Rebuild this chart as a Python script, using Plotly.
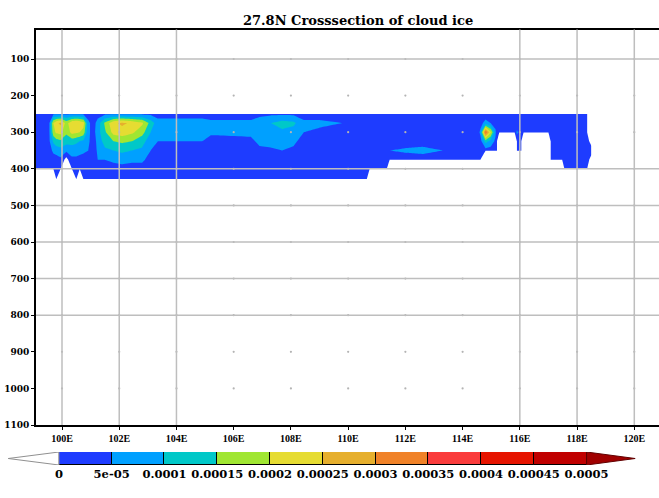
import numpy as np
import plotly.graph_objects as go

# ---------------- data ----------------
# longitude columns (deg E) of the 27.8N cross-section
LON = [99.0, 99.55, 99.7, 99.8, 99.95, 100.15, 100.35, 100.5, 100.62, 100.75,
       100.92, 101.1, 101.25, 101.5, 101.8, 102.1, 102.45, 102.8, 103.1, 103.35,
       104.9, 105.2, 106.6, 106.9, 107.3, 107.7, 108.1, 108.45, 109.0, 109.8,
       110.1, 110.65, 110.75, 111.35, 111.45, 112.0, 112.6, 113.3, 113.5, 114.5,
       114.62, 114.8, 114.98, 115.15, 115.2, 115.28, 115.82, 115.9, 116.05, 116.13,
       117.0, 117.08, 117.48, 117.56, 118.35, 118.5]

# pressure levels (hPa)
PLEV = [250, 275, 300, 325, 350, 375, 400, 428]

# cloud ice mixing ratio per level, in units of 1e-5 kg/kg (N = no ice / missing)
N = -99
ice_250 = [2, 3, 4, 4, 4, 4, 4, 4, 4, 4, 3, 2, 3, 4, 4, 4, 4, 4, 4, 3,
           3, 3, 3, 4, 4, 4, 4, 3, 3, 3, 2, 2, 2, 2, 2, 2, 2, 2, 2, 2,
           2, 2, 2, 2, 2, 2, 2, 2, 2, 2, 2, 2, 2, 2, 2, N]
ice_275 = [2, 4, 20, 24, 26, 18, 24, 25, 24, 22, 6, 3, 7, 16, 24, 26, 24, 21, 13, 7,
           7, 6, 6, 7, 10, 12, 11, 6, 6, 5, 3, 2, 2, 2, 2, 2, 2, 2, 2, 2,
           3, 7, 5, 3, 2, 2, 2, 2, 2, 2, 2, 2, 2, 2, 2, N]
ice_300 = [2, 4, 18, 21, 22, 16, 22, 21, 20, 18, 6, 3, 8, 14, 22, 23, 21, 17, 10, 7,
           7, 6, 6, 7, 9, 9, 8, 5, 4, 3, 2, 2, 2, 2, 2, 2, 2, 2, 2, 2,
           6, 35, 21, 6, 2, 2, 2, 6, 2, 2, 2, 2, 2, 2, 2, N]
ice_325 = [2, 4, 11, 13, 14, 12, 12, 11, 10, 9, 6, 2, 7, 12, 15, 16, 15, 12, 7, 5,
           5, 3, 4, 6, 7, 7, 6, 3, 3, 2, 2, 2, 2, 2, 2, 2, 2, 2, 2, 2,
           3, 12, 8, 4, 2, N, N, 2, 2, N, N, 2, 2, 2, 2, -2]
ice_350 = [2, 3, 6, 7, 8, 6, 7, 7, 6, 6, 5, 2, 6, 9, 10, 11, 10, 9, 5, 3,
           3, 2, 2, 4, 4, 5, 4, 2, 2, 2, 2, 2, 2, 2, 5, 6, 7, 5, 2, 2,
           2, 3, 3, 2, 2, N, N, 2, 2, N, N, 2, 2, 2, 2, 2]
ice_375 = [2, 2, 3, 3, 4, -2, 4, 4, 4, 3, 3, 2, 5, 5, 6, 7, 6, 6, 3, 2,
           2, 2, 2, 2, 2, 3, 2, 2, 2, 2, 2, 2, 2, 2, 2, 2, 2, 2, 2, 2,
           2, N, N, N, N, N, N, N, N, N, N, 2, 2, 2, 2, -2]
ice_400 = [2, 2, 2, 2, 2, N, 1, 2, 2, 2, 2, 2, 2, 2, 3, 3, 3, 3, 2, 2,
           2, 2, 2, 2, 2, 2, 2, 2, 2, 2, 2, 2, 2, 2, N, N, N, N, N, N,
           N, N, N, N, N, N, N, N, N, N, N, N, N, 2, 2, N]
ice_428 = [N, N, N, 1, N, N, N, 1, N, 2, 2, 2, 2, 2, 2, 2, 2, 2, 2, 2,
           2, 2, 2, 2, 2, 2, 2, 2, 2, 2, 2, 2, N, N, N, N, N, N, N, N,
           N, N, N, N, N, N, N, N, N, N, N, N, N, N, N, N]

# shading levels and colours (below first level, 10 bands, above last level)
LEVELS = [0, 0.00005, 0.0001, 0.00015, 0.0002, 0.00025, 0.0003, 0.00035,
          0.0004, 0.00045, 0.0005]
LEVEL_LABELS = ["0", "5e-05", "0.0001", "0.00015", "0.0002", "0.00025", "0.0003",
                "0.00035", "0.0004", "0.00045", "0.0005"]
SHADE_COLORS = ["#FFFFFF", "#1E3CFF", "#00A0FF", "#00C8C8", "#A0E632", "#E6DC32",
                "#E6AF2D", "#F08228", "#FA3C3C", "#E61400", "#C00000", "#A00000"]

# axis ticks
LON_TICKS = list(range(100, 121, 2))
LON_LABELS = [f"{v}E" for v in LON_TICKS]
P_TICKS = list(range(100, 1101, 100))
P_LABELS = [str(v) for v in P_TICKS]
GRID_LON_LINES = [100, 102, 104, 116, 118, 120]
GRID_P_LINES = [100, 400, 500, 600, 700, 800]

# ---------------- figure ----------------
W, H = 659, 498
z = np.array([ice_250, ice_275, ice_300, ice_325, ice_350, ice_375, ice_400, ice_428],
             dtype=float) * 1e-5

nlev = len(LEVELS)
cscale = [[k / nlev, c] for k, c in enumerate(SHADE_COLORS)]
step = LEVELS[1] - LEVELS[0]

fig = go.Figure()
fig.add_trace(go.Contour(
    x=LON, y=PLEV, z=z,
    autocontour=False,
    contours=dict(start=LEVELS[0], end=LEVELS[-1], size=step,
                  coloring="fill", showlines=False),
    line=dict(width=0, smoothing=0),
    colorscale=cscale, showscale=False, hoverinfo="skip",
    xaxis="x", yaxis="y"))

# grid dots at every tick crossing
gx, gy = np.meshgrid(LON_TICKS, P_TICKS[:-1])
fig.add_trace(go.Scatter(
    x=gx.ravel(), y=gy.ravel(), mode="markers",
    marker=dict(size=2.2, color="#B4B4B4"), hoverinfo="skip",
    xaxis="x", yaxis="y"))

# colour key: boxes between levels and end triangles
idx = np.arange(len(LEVELS) - 1)
fig.add_trace(go.Bar(
    x=idx + 0.5, y=[1] * len(idx), base=0, width=1,
    marker=dict(color=SHADE_COLORS[1:-1], line=dict(color="black", width=1)),
    hoverinfo="skip", xaxis="x2", yaxis="y2"))
last = len(LEVELS) - 1
fig.add_trace(go.Scatter(
    x=[0, -0.96, 0, 0], y=[0, 0.5, 1, 0], mode="lines", fill="toself",
    fillcolor=SHADE_COLORS[0], line=dict(color="#909090", width=1),
    hoverinfo="skip", xaxis="x2", yaxis="y2"))
fig.add_trace(go.Scatter(
    x=[last, last + 0.92, last, last], y=[0, 0.5, 1, 0], mode="lines", fill="toself",
    fillcolor=SHADE_COLORS[-1], line=dict(color="#600000", width=1),
    hoverinfo="skip", xaxis="x2", yaxis="y2"))

grid_style = dict(color="#BEBEBE", width=1.5)
for lon in GRID_LON_LINES:
    fig.add_shape(type="line", xref="x", yref="y domain", x0=lon, x1=lon, y0=0, y1=1,
                  line=grid_style, layer="above")
for p in GRID_P_LINES:
    fig.add_shape(type="line", xref="x domain", yref="y", x0=0, x1=1, y0=p, y1=p,
                  line=grid_style, layer="above")

x_left, x_right = 36, W
lon_per_px = 20 / (634.3 - 62)
y_top, y_bot = 29.5, 425
hpa_per_px = 1000 / (425 - 59)

tick_font = dict(family="Liberation Serif", size=10, color="black", weight="bold")
fig.update_layout(
    width=W, height=H, margin=dict(l=0, r=0, t=0, b=0),
    paper_bgcolor="white", plot_bgcolor="white", showlegend=False,
    bargap=0,
    xaxis=dict(domain=[x_left / W, 1],
               range=[100 - (62 - x_left) * lon_per_px, 100 + (x_right - 62) * lon_per_px],
               tickmode="array", tickvals=LON_TICKS, ticktext=LON_LABELS,
               showgrid=False, zeroline=False, showline=True, linecolor="black",
               linewidth=2, mirror=True, ticks="outside", ticklen=3, tickcolor="black",
               tickfont=tick_font, automargin=False, anchor="y"),
    yaxis=dict(domain=[(H - y_bot) / H, (H - y_top) / H],
               range=[1100, 100 - (59 - y_top) * hpa_per_px],
               tickmode="array", tickvals=P_TICKS, ticktext=P_LABELS,
               showgrid=False, zeroline=False, showline=True, linecolor="black",
               linewidth=2, ticks="outside", ticklen=3, tickcolor="black",
               tickfont=dict(family="DejaVu Serif", size=9, color="black", weight="bold"),
               automargin=False, anchor="x"),
    xaxis2=dict(domain=[0, 1], range=[-58.9 / 52.77, (W - 58.9) / 52.77],
                tickmode="array", tickvals=list(range(len(LEVELS))), ticktext=LEVEL_LABELS,
                showgrid=False, zeroline=False, showline=False, ticks="",
                tickfont=dict(family="DejaVu Serif", size=11.5, color="black", weight="bold"),
                automargin=False, anchor="y2"),
    yaxis2=dict(domain=[(H - 465) / H, (H - 452) / H], range=[0, 1], visible=False,
                fixedrange=True, anchor="x2"),
    annotations=[dict(text="27.8N Crosssection of cloud ice", xref="paper", yref="paper",
                      x=358 / W, y=(H - 21) / H, xanchor="center", yanchor="middle",
                      showarrow=False,
                      font=dict(family="DejaVu Serif", size=13, color="black",
                                weight="bold"))],
)

fig.write_html("out.html")
